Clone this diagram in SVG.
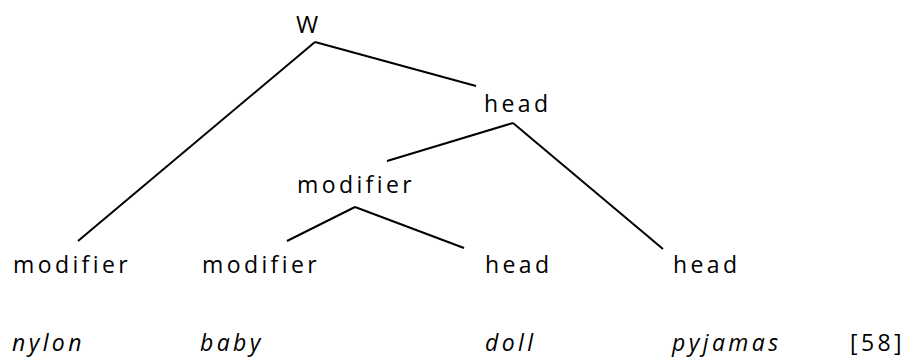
<svg xmlns="http://www.w3.org/2000/svg" width="920" height="358" viewBox="0 0 920 358">
  <style>
    .lbl { font-family: "Open Sans", "Liberation Sans", sans-serif; font-size: 23px; letter-spacing: 3.4px; fill: #000; }
    .word { font-style: italic; }
    .edge { stroke: #000; stroke-width: 2; fill: none; stroke-linecap: butt; }
  </style>
  <rect width="920" height="358" fill="#fff"/>

  <!-- tree branches -->
  <g id="connectors">
    <line class="edge" x1="315" y1="42" x2="78" y2="241"/>
    <line class="edge" x1="315" y1="42" x2="476" y2="86"/>
    <line class="edge" x1="513" y1="123" x2="387" y2="161"/>
    <line class="edge" x1="513" y1="123" x2="663" y2="249"/>
    <line class="edge" x1="355" y1="207" x2="287" y2="241"/>
    <line class="edge" x1="355" y1="207" x2="464" y2="248"/>
  </g>

  <g id="node-w"><text class="lbl" x="296" y="33" style="letter-spacing:0;font-size:24px">W</text></g>
  <g id="node-head-top"><text class="lbl" x="484" y="112">head</text></g>
  <g id="node-modifier-mid"><text class="lbl" x="297" y="193">modifier</text></g>
  <g id="node-modifier-1"><text class="lbl" x="13" y="273">modifier</text></g>
  <g id="node-modifier-2"><text class="lbl" x="202" y="273">modifier</text></g>
  <g id="node-head-1"><text class="lbl" x="485" y="273">head</text></g>
  <g id="node-head-2"><text class="lbl" x="673" y="273">head</text></g>

  <!-- words -->
  <g id="words">
    <text class="lbl word" x="12" y="351">nylon</text>
    <text class="lbl word" x="200" y="351">baby</text>
    <text class="lbl word" x="485" y="351">doll</text>
    <text class="lbl word" x="672" y="351">pyjamas</text>
    <text class="lbl" x="850" y="351">[58]</text>
  </g>
</svg>
